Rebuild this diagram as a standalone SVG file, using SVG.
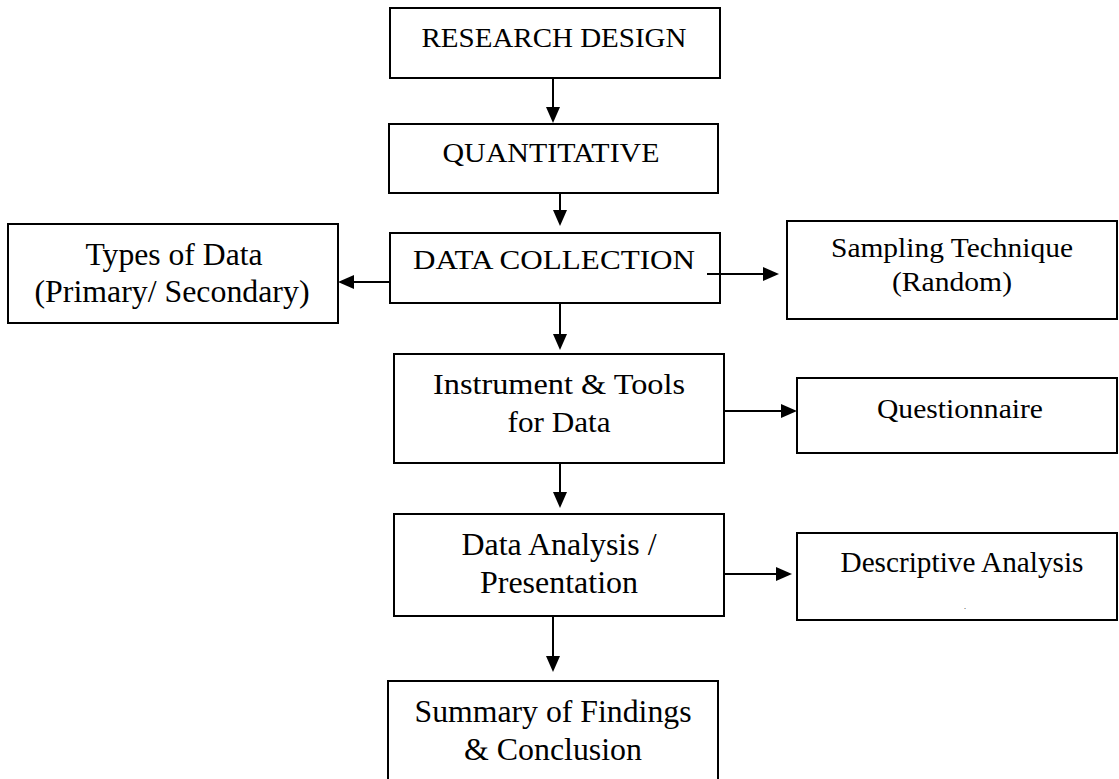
<svg xmlns="http://www.w3.org/2000/svg" width="1119" height="779" viewBox="0 0 1119 779">
<style>
.box{fill:#fff;stroke:#000;stroke-width:2}
.t{font-family:"Liberation Serif","Times New Roman",serif;fill:#000;text-anchor:middle}
.c{fill:none;stroke:#000;stroke-width:2;marker-end:url(#ah)}
</style>
<defs>
<marker id="ah" viewBox="0 0 16 14" refX="8" refY="7" markerWidth="16" markerHeight="14" markerUnits="userSpaceOnUse" orient="auto">
<path d="M0,0 L16,7 L0,14 z" fill="#000"/>
</marker>
</defs>
<rect width="1119" height="779" fill="#fff"/>
<g id="research-design">
<rect class="box" x="390" y="8" width="330" height="70"/>
<text class="t" x="554" y="47" font-size="28" textLength="265" lengthAdjust="spacingAndGlyphs">RESEARCH DESIGN</text>
</g>
<g id="quantitative">
<rect class="box" x="389" y="124" width="329" height="69"/>
<text class="t" x="551" y="162" font-size="28" textLength="217" lengthAdjust="spacingAndGlyphs">QUANTITATIVE</text>
</g>
<g id="data-collection">
<rect class="box" x="390" y="233" width="330" height="70"/>
<text class="t" x="554" y="269" font-size="28" textLength="282" lengthAdjust="spacingAndGlyphs">DATA COLLECTION</text>
</g>
<g id="types-of-data">
<rect class="box" x="8" y="224" width="330" height="99"/>
<text class="t" x="174" y="265" font-size="31" textLength="177" lengthAdjust="spacingAndGlyphs">Types of Data</text>
<text class="t" x="172" y="302" font-size="31" textLength="275" lengthAdjust="spacingAndGlyphs">(Primary/ Secondary)</text>
</g>
<g id="sampling-technique">
<rect class="box" x="787" y="221" width="330" height="98"/>
<text class="t" x="952" y="257" font-size="28" textLength="242" lengthAdjust="spacingAndGlyphs">Sampling Technique</text>
<text class="t" x="952" y="291" font-size="28" textLength="120" lengthAdjust="spacingAndGlyphs">(Random)</text>
</g>
<g id="instrument-tools">
<rect class="box" x="394" y="354" width="330" height="109"/>
<text class="t" x="559" y="394" font-size="30" textLength="252" lengthAdjust="spacingAndGlyphs">Instrument &amp; Tools</text>
<text class="t" x="559" y="432" font-size="30" textLength="103" lengthAdjust="spacingAndGlyphs">for Data</text>
</g>
<g id="questionnaire">
<rect class="box" x="797" y="378" width="320" height="75"/>
<text class="t" x="960" y="418" font-size="28" textLength="166" lengthAdjust="spacingAndGlyphs">Questionnaire</text>
</g>
<g id="data-analysis">
<rect class="box" x="394" y="514" width="330" height="102"/>
<text class="t" x="559" y="555" font-size="32" textLength="195" lengthAdjust="spacingAndGlyphs">Data Analysis /</text>
<text class="t" x="559" y="593" font-size="32" textLength="158" lengthAdjust="spacingAndGlyphs">Presentation</text>
</g>
<g id="descriptive-analysis">
<rect class="box" x="797" y="533" width="320" height="87"/>
<text class="t" x="962" y="572" font-size="29" textLength="243" lengthAdjust="spacingAndGlyphs">Descriptive Analysis</text>
<text class="t" x="965" y="609" font-size="8">.</text>
</g>
<g id="summary">
<path class="box" d="M388,782 V681 H718 V782"/>
<text class="t" x="553" y="722" font-size="31" textLength="277" lengthAdjust="spacingAndGlyphs">Summary of Findings</text>
<text class="t" x="553" y="760" font-size="31" textLength="178" lengthAdjust="spacingAndGlyphs">&amp; Conclusion</text>
</g>
<g id="connectors">
<path class="c" d="M553,78 V115"/>
<path class="c" d="M560,193 V218"/>
<path class="c" d="M390,282 H346"/>
<path class="c" d="M707,274 H771"/>
<path class="c" d="M560,303 V342"/>
<path class="c" d="M724,411 H789"/>
<path class="c" d="M560,463 V500"/>
<path class="c" d="M724,574 H784"/>
<path class="c" d="M553,616 V664"/>
</g>
</svg>
